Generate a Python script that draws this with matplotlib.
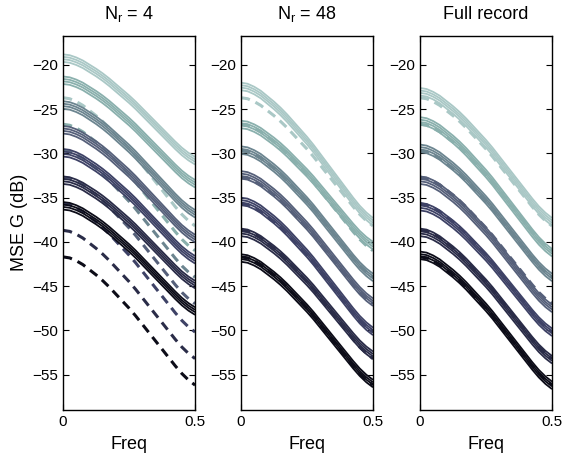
import matplotlib.pyplot as plt
import numpy as np

plt.rcParams["font.family"] = ["Liberation Sans", "DejaVu Sans"]
plt.rcParams["mathtext.fontset"] = "custom"
plt.rcParams["mathtext.rm"] = "Liberation Sans"
plt.rcParams["mathtext.it"] = "Liberation Sans:italic"

# frequency grid and the common curve shape (0 at f=0 .. 1 at f=0.5)
freq = np.linspace(0, 0.5, 21)
shape = [0, 0.008, 0.03, 0.06, 0.1, 0.14, 0.185, 0.235, 0.29, 0.345, 0.4,
         0.46, 0.525, 0.59, 0.655, 0.72, 0.785, 0.85, 0.91, 0.96, 1.0]

titles = ["$\\mathregular{N_r}$ = 4", "$\\mathregular{N_r}$ = 48", "Full record"]

colors = ["#aac8c6", "#8ab0ad", "#6c8590", "#56607a", "#3e4266", "#2a2c48", "#0c0c18"]

# estimated bundles (solid): value at f=0 and at f=0.5 for each colour
est_start = [
    [-19.2, -21.7, -24.5, -27.3, -29.9, -33.0, -35.9],
    [-22.4, -26.7, -29.6, -32.4, -35.4, -38.9, -41.8],
    [-23.0, -26.3, -29.4, -33.0, -36.0, -38.9, -41.5],
]
est_end = [
    [-30.8, -33.4, -36.8, -39.6, -42.0, -44.8, -47.8],
    [-37.7, -40.4, -44.0, -46.8, -50.1, -52.8, -56.0],
    [-37.7, -41.2, -44.0, -47.5, -50.2, -53.3, -56.2],
]
# spread of the individual realisations inside a bundle (dB)
spread = [-0.45, -0.15, 0.12, 0.4]

# true curves (dashed), same in every panel
true_start = [-23.7, -26.7, -29.7, -32.7, -35.7, -38.7, -41.7]
true_end = [-38.2, -41.0, -44.0, -47.0, -50.2, -53.2, -56.2]

fig = plt.figure(figsize=(5.63, 4.59), dpi=100)
lefts = [0.112, 0.428, 0.746]
shape = np.array(shape)

for p in range(3):
    ax = fig.add_axes([lefts[p], 0.107, 0.2345, 0.815])
    for k in range(len(colors)):
        a, b = est_start[p][k], est_end[p][k]
        for d in spread:
            ax.plot(freq, a + (b - a) * shape + d, color=colors[k], lw=1.3,
                    solid_capstyle="butt")
        ta, tb = true_start[k], true_end[k]
        ax.plot(freq, ta + (tb - ta) * shape, color=colors[k], lw=2.2,
                ls=(0, (3, 2)))
    ax.set_xlim(0, 0.5)
    ax.set_ylim(-59, -16.7)
    ax.set_xticks([0, 0.5])
    ax.set_xticklabels(["0", "0.5"])
    ax.set_yticks([-20, -25, -30, -35, -40, -45, -50, -55])
    ax.tick_params(direction="in", right=True, top=True, labelsize=11, pad=3.5,
                   length=4, width=0.8)
    for s in ax.spines.values():
        s.set_linewidth(1.0)
    ax.set_title(titles[p], fontsize=13, pad=12)
    ax.set_xlabel("Freq", fontsize=13, labelpad=5)
    if p == 0:
        ax.set_ylabel("MSE G (dB)", fontsize=13, labelpad=3)

fig.savefig("out.png", dpi=100)
